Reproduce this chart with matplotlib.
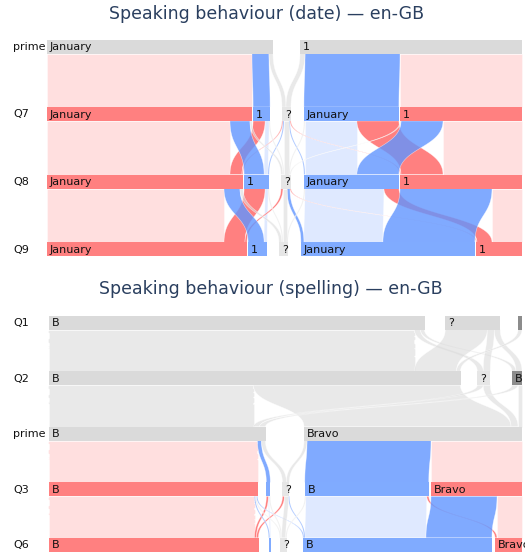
import numpy as np
import matplotlib.pyplot as plt

# ---- data: speaking behaviour (date) ----
date_rows = ["prime", "Q7", "Q8", "Q9"]
date_labels = [["January", "1"]] + [["January", "1", "?", "January", "1"]] * 3
date_kinds = [["grey", "grey"]] + [["red", "blue", "q", "blue", "red"]] * 3

# (source category, target category, count, colour kind)
date_prime_q7 = [(0, 0, 205, "p"), (0, 1, 17, "b"), (0, 2, 4, "g"),
                 (1, 2, 5, "g"), (1, 3, 95, "b"), (1, 4, 122, "p")]
date_q7_q8 = [(0, 0, 183, "p"), (0, 1, 20, "b"), (0, 2, 2, "g"),
              (1, 0, 12, "r"), (1, 1, 4, "l"), (1, 2, 1, "g"),
              (2, 0, 1, "r"), (2, 1, 1, "b"), (2, 2, 5, "g"), (2, 3, 1, "b"), (2, 4, 1, "r"),
              (3, 2, 1, "g"), (3, 3, 52, "l"), (3, 4, 42, "r"),
              (4, 2, 1, "g"), (4, 3, 42, "b"), (4, 4, 79, "p")]
date_q8_q9 = [(0, 0, 177, "p"), (0, 1, 16, "b"), (0, 2, 3, "g"),
              (1, 0, 21, "r"), (1, 1, 3, "l"), (1, 2, 1, "g"),
              (2, 0, 2, "r"), (2, 2, 4, "g"), (2, 3, 3, "b"), (2, 4, 1, "r"),
              (3, 2, 1, "g"), (3, 3, 79, "l"), (3, 4, 15, "r"),
              (4, 3, 92, "b"), (4, 4, 30, "p")]

# ---- data: speaking behaviour (spelling) ----
spell_rows = ["Q1", "Q2", "prime", "Q3", "Q6"]
spell_labels = [["B", "?", ""], ["B", "?", "B"], ["B", "Bravo"],
                ["B", "", "?", "B", "Bravo"], ["B", "", "?", "B", "Bravo"]]
spell_kinds = [["grey", "grey", "dark"], ["grey", "q", "dark"], ["grey", "grey"],
               ["red", "blue", "q", "blue", "red"], ["red", "blue", "q", "blue", "red"]]

spell_q1_q2 = [(0, 0, 366, "g"), (0, 1, 6, "g"), (0, 2, 4, "g"),
               (1, 0, 42, "g"), (1, 1, 7, "g"), (1, 2, 6, "g"),
               (2, 0, 4, "g")]
spell_q2_prime = [(0, 0, 205, "g"), (0, 1, 207, "g"), (1, 0, 6, "g"),
                  (1, 1, 7, "g"), (2, 0, 6, "g"), (2, 1, 4, "g")]
spell_prime_q3 = [(0, 0, 209, "p"), (0, 1, 4, "b"), (0, 2, 4, "g"),
                  (1, 2, 3, "g"), (1, 3, 124, "b"), (1, 4, 91, "p")]
spell_q3_q6 = [(0, 0, 206, "p"), (0, 1, 1, "b"), (0, 2, 1, "g"), (0, 3, 1, "b"),
               (1, 0, 2, "r"), (1, 1, 1, "l"), (1, 2, 1, "g"),
               (2, 0, 2, "r"), (2, 2, 4, "g"), (2, 3, 1, "b"),
               (3, 2, 1, "g"), (3, 3, 121, "l"), (3, 4, 2, "r"),
               (4, 3, 66, "b"), (4, 4, 25, "p")]

# ---- styles ----
node_col = {"grey": "#dadada", "q": "#e6e6e6", "dark": "#8c8c8c",
            "red": "#ff8080", "blue": "#80abff"}
link_col = {"p": (1.0, 0.5, 0.5, 0.25), "l": (0.5, 0.667, 1.0, 0.25),
            "g": (0.86, 0.86, 0.86, 0.6), "r": (1.0, 0.376, 0.376, 0.8),
            "b": (0.376, 0.584, 1.0, 0.8)}
draw_order = ["p", "l", "r", "b", "g"]
BAR_H = 14


def curve(xa, xb, y0, y1, n=50):
    t = np.linspace(0, 1, n)
    ym = (y0 + y1) / 2
    x = xa * (1 - t) ** 3 + 3 * xa * (1 - t) ** 2 * t + 3 * xb * (1 - t) * t ** 2 + xb * t ** 3
    y = y0 * (1 - t) ** 3 + 3 * ym * (1 - t) ** 2 * t + 3 * ym * (1 - t) * t ** 2 + y1 * t ** 3
    return x, y


def sankey(ax, rows, labels, kinds, links, gaps, x0, x1, y_tops):
    n = len(rows)
    outs = [np.zeros(len(l)) for l in labels]
    ins = [np.zeros(len(l)) for l in labels]
    for r, lk in enumerate(links):
        for s, t, v, k in lk:
            outs[r][s] += v
            ins[r + 1][t] += v
    sizes = [np.maximum(outs[r], ins[r]) for r in range(n)]
    starts = []
    for r in range(n):
        g = np.array(gaps[r], float)
        free = (x1 - x0) - sizes[r].sum()
        g = free * g / g.sum()
        st = x0 + np.concatenate([[0], np.cumsum(sizes[r][:-1] + g)])
        starts.append(st)

    polys = []
    for r, lk in enumerate(links):
        src_off = starts[r].copy()
        tgt_off = starts[r + 1].copy()
        src_pos, tgt_pos = {}, {}
        for i in sorted(range(len(lk)), key=lambda i: (lk[i][0], lk[i][1])):
            s, t, v, k = lk[i]
            src_pos[i] = src_off[s]
            src_off[s] += v
        for i in sorted(range(len(lk)), key=lambda i: (lk[i][1], lk[i][0])):
            s, t, v, k = lk[i]
            tgt_pos[i] = tgt_off[t]
            tgt_off[t] += v
        y0 = y_tops[r] + BAR_H
        y1 = y_tops[r + 1]
        for i, (s, t, v, k) in enumerate(lk):
            xl, yl = curve(src_pos[i], tgt_pos[i], y0, y1)
            xr, yr = curve(src_pos[i] + v, tgt_pos[i] + v, y0, y1)
            polys.append((k, np.concatenate([xl, xr[::-1]]), np.concatenate([yl, yr[::-1]])))

    for kind in draw_order:
        for k, px, py in polys:
            if k == kind:
                ax.fill(px, py, color=link_col[k], ec=(1, 1, 1, 0.6), lw=0.4, zorder=1)

    for r in range(n):
        for c, lab in enumerate(labels[r]):
            ax.add_patch(plt.Rectangle((starts[r][c], y_tops[r]), sizes[r][c], BAR_H,
                                       fc=node_col[kinds[r][c]], ec="none", zorder=2))
            if lab:
                ax.text(starts[r][c] + 3, y_tops[r] + BAR_H / 2 + 0.5, lab, fontsize=8,
                        color="#111111", va="center", ha="left", zorder=3)
        ax.text(13, y_tops[r] + BAR_H / 2 + 0.5, rows[r], fontsize=8, color="#111111",
                va="center", ha="left", zorder=3)


W, H = 525, 553
fig = plt.figure(figsize=(W / 100, H / 100), dpi=100)
ax = fig.add_axes([0, 0, 1, 1])
ax.set_xlim(0, W)
ax.set_ylim(H, 0)
ax.axis("off")

ax.text(267, 14, "Speaking behaviour (date) \u2014 en-GB", fontsize=12.5,
        color="#2a3f5f", ha="center", va="center")
sankey(ax, date_rows, date_labels, date_kinds,
       [date_prime_q7, date_q7_q8, date_q8_q9],
       [[1], [1, 11, 12, 1], [1, 11, 12, 1], [1, 11, 12, 1]],
       47, 522, [39.5, 107, 174.5, 242.3])

ax.text(271, 289, "Speaking behaviour (spelling) \u2014 en-GB", fontsize=12.5,
        color="#2a3f5f", ha="center", va="center")
sankey(ax, spell_rows, spell_labels, spell_kinds,
       [spell_q1_q2, spell_q2_prime, spell_prime_q3, spell_q3_q6],
       [[21, 18], [17, 22], [1], [8, 11, 14, 2], [10, 9, 16, 3]],
       48.5, 522, [315.7, 371.2, 426.7, 482.3, 537.8])

fig.savefig("out.png", dpi=100)
